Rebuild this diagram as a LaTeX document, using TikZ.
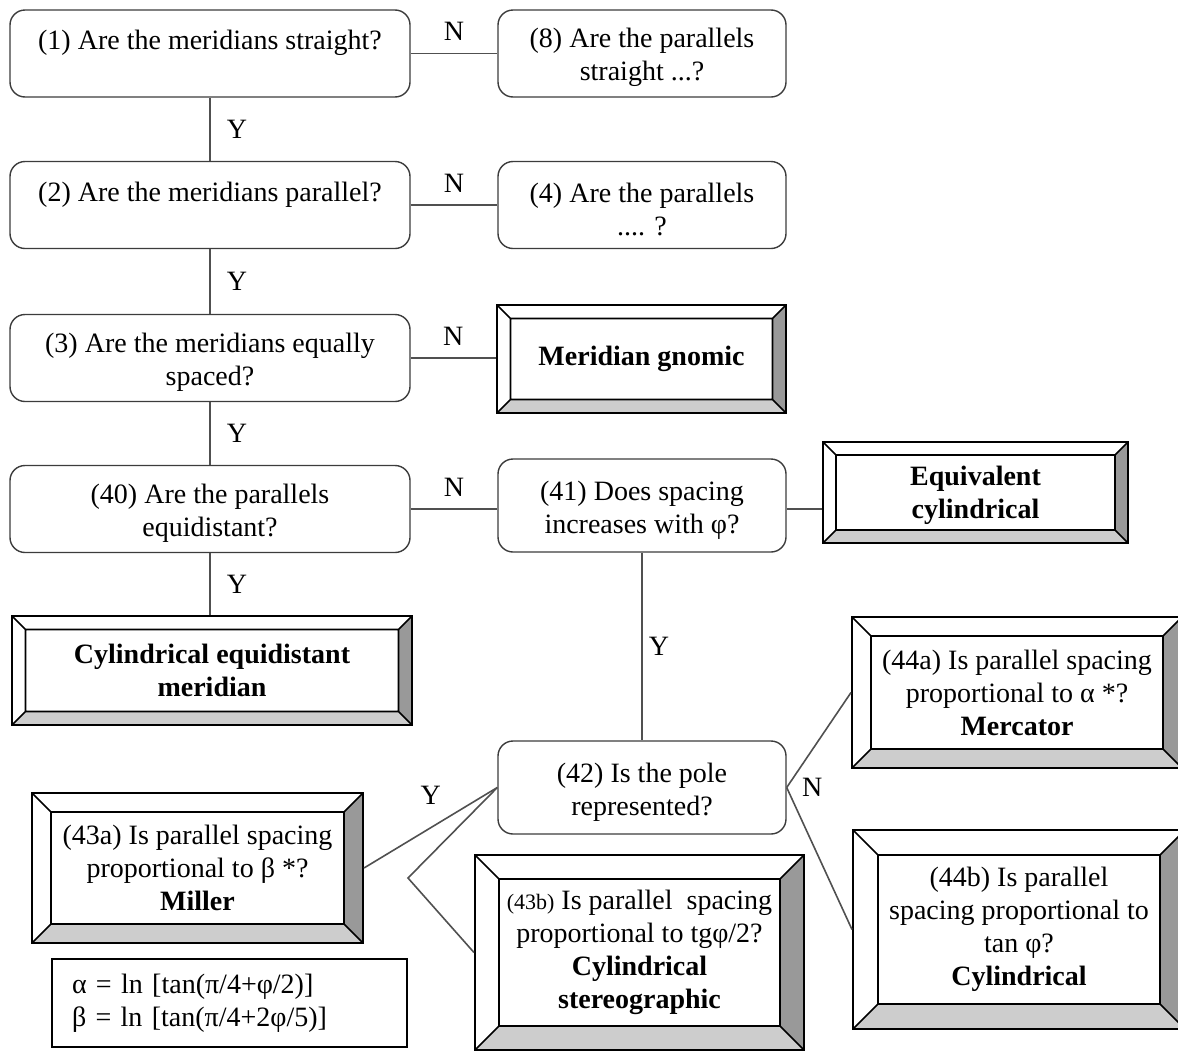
\documentclass[tikz,border=0pt]{standalone}
\usepackage{fontspec}
\setmainfont{Liberation Serif}
\usetikzlibrary{calc}

\definecolor{linegray}{RGB}{80,80,80}
\definecolor{boxgray}{RGB}{60,60,60}
\definecolor{bevdark}{RGB}{153,153,153}
\definecolor{bevlight}{RGB}{205,205,205}

\newcommand{\mainsize}{\fontsize{14}{16.5}\selectfont}
\newcommand{\smallsize}{\fontsize{11}{16.5}\selectfont}

% framed box with a bevelled border, #1 = width of the bevel
\tikzset{
  bevel/.style={draw=black,line width=1pt,fill=white,align=center,
    path picture={
      \path (path picture bounding box.north west) coordinate (nw)
            (path picture bounding box.north east) coordinate (ne)
            (path picture bounding box.south east) coordinate (se)
            (path picture bounding box.south west) coordinate (sw)
            ([shift={(#1,-#1)}]nw) coordinate (inw)
            ([shift={(-#1,-#1)}]ne) coordinate (ine)
            ([shift={(-#1,#1)}]se) coordinate (ise)
            ([shift={(#1,#1)}]sw) coordinate (isw);
      \fill[bevdark] (ne) -- (se) -- (ise) -- (ine) -- cycle;
      \fill[bevlight] (sw) -- (se) -- (ise) -- (isw) -- cycle;
      \draw[line width=0.8pt] (inw) rectangle (ise)
            (nw) -- (inw) (ne) -- (ine) (se) -- (ise) (sw) -- (isw);
    }}
}

\begin{document}
\begin{tikzpicture}[x=0.5pt,y=-0.5pt,font=\mainsize]
\tikzstyle{question}=[draw=boxgray,line width=0.7pt,rounded corners=7.5pt,fill=white,align=center,minimum height=43.5pt,inner sep=3pt]
\tikzstyle{wide}=[question,minimum width=200pt]
\tikzstyle{narrow}=[question,minimum width=144pt]
\tikzstyle{oneline}=[text depth=13.5pt]
\tikzstyle{twoline}=[text height=30.5pt]
\tikzstyle{link}=[draw=linegray,line width=0.8pt]
\tikzstyle{lab}=[inner sep=2pt]

\useasboundingbox (0,0) rectangle (1178,1050);
\clip (0,0) rectangle (1178,1050);

% questions
\node[wide,oneline] (q1) at (210,53.5) {(1) Are the meridians straight?};
\node[wide,oneline] (q2) at (210,205) {(2) Are the meridians parallel?};
\node[wide,twoline] (q3) at (210,358) {(3) Are the meridians equally\\ spaced?};
\node[wide,twoline] (q40) at (210,509) {(40) Are the parallels\\ equidistant?};

\node[narrow,twoline] (q8) at (642,53.5) {(8) Are the parallels\\ straight ...?};
\node[narrow,twoline] (q4) at (642,205) {(4) Are the parallels\\ .... ?};
\node[narrow,twoline,minimum height=46.5pt] (q41) at (642,505.5) {(41) Does spacing\\ increases with φ?};
\node[narrow,twoline,minimum height=46.5pt] (q42) at (642,787.5) {(42) Is the pole\\ represented?};

% results
\node[bevel=6.75pt,minimum width=144.5pt,minimum height=54pt] (gnomic) at (641.5,359) {\textbf{Meridian gnomic}};
\node[bevel=6.5pt,minimum width=152.5pt,minimum height=50.5pt,text height=29pt] (equiv) at (975.5,492.5) {\textbf{Equivalent}\\ \textbf{cylindrical}};
\node[bevel=6.75pt,minimum width=200pt,minimum height=54.5pt] (equimer) at (212,670.5) {\textbf{Cylindrical equidistant}\\ \textbf{meridian}};
\node[bevel=9.5pt,minimum width=165pt,minimum height=75.5pt] (mercator) at (1017,692.5) {(44a) Is parallel spacing\\ proportional to α *?\\ \textbf{Mercator}};
\node[bevel=12.5pt,minimum width=166pt,minimum height=99.5pt] (cyl) at (1019,929.5) {(44b) Is parallel\\ spacing proportional to\\ tan φ?\\ \textbf{Cylindrical}};
\node[bevel=9.5pt,minimum width=165.5pt,minimum height=75pt] (miller) at (197.5,868) {(43a) Is parallel spacing\\ proportional to β *?\\ \textbf{Miller}};
\node[bevel=12pt,minimum width=164.5pt,minimum height=97.5pt] (stereo) at (639.5,952.5) {{\smallsize(43b)} Is parallel~ spacing\\ proportional to tgφ/2?\\ \textbf{Cylindrical}\\ \textbf{stereographic}};

\node[draw=black,line width=0.8pt,text width=157.5pt,inner xsep=10pt,align=left,minimum height=44pt] (formula) at (229.5,1003) {α = ln [tan(π/4+φ/2)]\\ β = ln [tan(π/4+2φ/5)]};

\coordinate (bend) at (408,878);

% connectors
\draw[link] (q1) -- node[lab,right=6pt] (y1) {Y} (q2);
\draw[link] (q2) -- node[lab,right=6pt] (y2) {Y} (q3);
\draw[link] (q3) -- node[lab,right=6pt] (y3) {Y} (q40);
\draw[link] (q40.south) -- node[lab,right=6pt] (y4) {Y} (q40.south |- equimer.north);
\draw[link] (q1) -- node[lab,above=4pt] (n1) {N} (q8);
\draw[link] (q2) -- node[lab,above=4pt] (n2) {N} (q4);
\draw[link] (q3.east) -- node[lab,above=4pt] (n3) {N} (q3.east -| gnomic.west);
\draw[link] (q40.east) -- node[lab,above=4pt] (n4) {N} (q40.east -| q41.west);
\draw[link] (q40.east -| q41.east) -- (q40.east -| equiv.west);
\draw[link] (q41) -- node[lab,right=1pt] (y5) {Y} (q42);
\draw[link] (q42.west) -- node[lab,above=9pt] (y6) {Y} (miller.east);
\draw[link] (q42.west) -- (bend) -- (stereo.west);
\draw[link] (q42.east) -- (mercator.west);
\draw[link] (q42.east) -- (cyl.west);
\node[lab,anchor=west,xshift=5.5pt] (n5) at (q42.east) {N};

\end{tikzpicture}
\end{document}
